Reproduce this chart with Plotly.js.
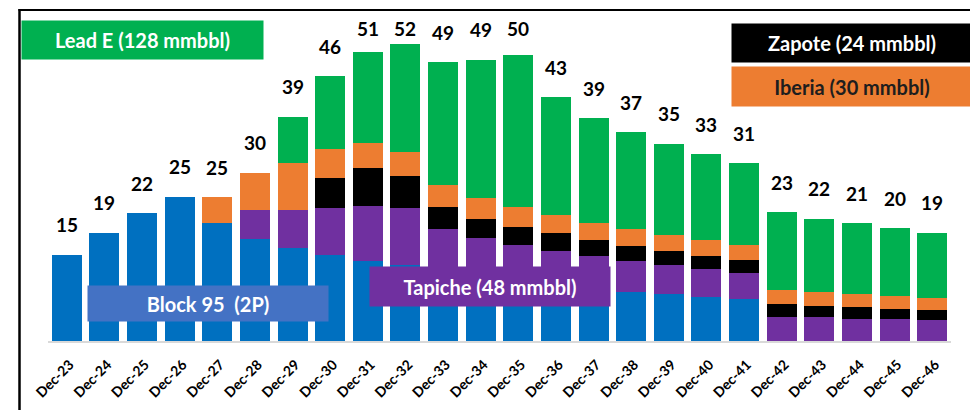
<!DOCTYPE html>
<html>
<head>
<meta charset="utf-8">
<script src="https://cdn.plot.ly/plotly-3.0.1.min.js"></script>
<style>html,body{margin:0;padding:0;background:#fff;}#chart{width:970px;height:410px;}</style>
</head>
<body>
<div id="chart"></div>
<script>
var categories = ["Dec-23","Dec-24","Dec-25","Dec-26","Dec-27","Dec-28","Dec-29","Dec-30","Dec-31","Dec-32","Dec-33","Dec-34","Dec-35","Dec-36","Dec-37","Dec-38","Dec-39","Dec-40","Dec-41","Dec-42","Dec-43","Dec-44","Dec-45","Dec-46"];
var block95 = [15, 18.8, 22.2, 25.1, 20.6, 17.7, 16.1, 14.9, 13.9, 13.2, 12.5, 11.8, 11.1, 10.4, 9.6, 8.6, 8.1, 7.7, 7.3, 0, 0, 0, 0, 0];
var tapiche = [0, 0, 0, 0, 0, 5.1, 6.7, 8.2, 9.6, 10.0, 7.0, 6.1, 5.6, 5.3, 5.2, 5.3, 5.1, 4.8, 4.6, 4.2, 4.1, 3.9, 3.8, 3.6];
var zapote = [0, 0, 0, 0, 0, 0, 0, 5.2, 6.6, 5.5, 3.8, 3.4, 3.2, 3.0, 2.8, 2.6, 2.5, 2.3, 2.2, 2.2, 2.0, 2.1, 1.8, 1.8];
var iberia = [0, 0, 0, 0, 4.4, 6.5, 8.1, 5.1, 4.4, 4.1, 3.8, 3.6, 3.4, 3.2, 3.0, 3.0, 2.7, 2.8, 2.6, 2.4, 2.4, 2.1, 2.2, 2.1];
var leadE = [0, 0, 0, 0, 0, 0, 8.1, 12.6, 15.8, 18.8, 21.4, 24.0, 26.4, 20.5, 18.1, 16.8, 15.9, 14.9, 14.2, 13.6, 12.8, 12.4, 11.8, 11.3];
var totalLabels = ["15","19","22","25","25","30","39","46","51","52","49","49","50","43","39","37","35","33","31","23","22","21","20","19"];
var seriesNames = ["Block 95 (2P)", "Tapiche (48 mmbbl)", "Zapote (24 mmbbl)", "Iberia (30 mmbbl)", "Lead E (128 mmbbl)"];

var FONT = "Lato, 'Open Sans', sans-serif";
var colors = ["#0070c0", "#7030a0", "#000000", "#ed7d31", "#00b050"];
var allSeries = [block95, tapiche, zapote, iberia, leadE];

var traces = allSeries.map(function (vals, i) {
  return {
    type: "bar",
    x: categories,
    y: vals,
    name: seriesNames[i],
    marker: { color: colors[i], line: { width: 0 } },
    hoverinfo: "x+y+name"
  };
});

var M = { l: 48, r: 19, t: 13, b: 69 };
var W = 970, H = 410;
var pw = W - M.l - M.r, ph = H - M.t - M.b;
function px2x(px) { return (px - M.l) / pw; }
function px2y(py) { return (H - M.b - py) / ph; }
var yMax = 57.04;
var unitPx = ph / yMax;

var annotations = [];
categories.forEach(function (c, i) {
  var tot = 0;
  allSeries.forEach(function (s) { tot += s[i]; });
  var yLab = Math.min(tot + 30 / unitPx, (H - M.b - 28) / unitPx);
  annotations.push({
    x: c, y: yLab, xref: "x", yref: "y",
    text: "<b>" + totalLabels[i] + "</b>",
    showarrow: false, yanchor: "middle", xanchor: "center",
    font: { family: FONT, size: 19, color: "#000" }
  });
});

function box(text, x0, x1, y0, y1, bg, fg) {
  annotations.push({
    xref: "paper", yref: "paper",
    x: px2x((x0 + x1) / 2), y: px2y((y0 + y1) / 2),
    xanchor: "center", yanchor: "middle",
    width: x1 - x0, height: y1 - y0, borderpad: 0,
    bgcolor: bg, showarrow: false, align: "center", valign: "middle",
    text: "<b>" + text + "</b>",
    font: { family: FONT, size: 20, color: fg }
  });
}
box(seriesNames[4], 22, 263, 21, 59, "#00b050", "#ffffff");
box(seriesNames[2], 732, 972, 24, 62, "#000000", "#ffffff");
box(seriesNames[3], 732, 972, 67, 106, "#ed7d31", "#1e1e1e");
box("Block 95&nbsp;&nbsp;(2P)", 88, 328, 286, 321, "#4472c4", "#ffffff");
box(seriesNames[1], 370, 610, 267, 306, "#7030a0", "#ffffff");

var shapes = [
  { type: "line", xref: "paper", yref: "paper", x0: px2x(19.5), x1: px2x(19.5), y0: px2y(9), y1: px2y(420), line: { color: "#000", width: 2.5 } },
  { type: "line", xref: "paper", yref: "paper", x0: px2x(18.5), x1: px2x(975), y0: px2y(10), y1: px2y(10), line: { color: "#000", width: 2 } }
];

var layout = {
  width: W, height: H,
  margin: M,
  paper_bgcolor: "#fff", plot_bgcolor: "#fff",
  barmode: "stack",
  bargap: 0.2,
  showlegend: false,
  xaxis: {
    type: "category",
    tickangle: -45,
    showline: true, linecolor: "#d9d9d9", linewidth: 2,
    ticks: "", showgrid: false, zeroline: false,
    ticklabelstandoff: 8,
    ticklabelshift: 3,
    tickfont: { family: FONT, size: 14, color: "#000", weight: "bold" }
  },
  yaxis: {
    range: [0, yMax], visible: false, showgrid: false, zeroline: false
  },
  annotations: annotations,
  shapes: shapes
};

Plotly.newPlot("chart", traces, layout, { displayModeBar: false, staticPlot: true });
</script>
</body>
</html>
